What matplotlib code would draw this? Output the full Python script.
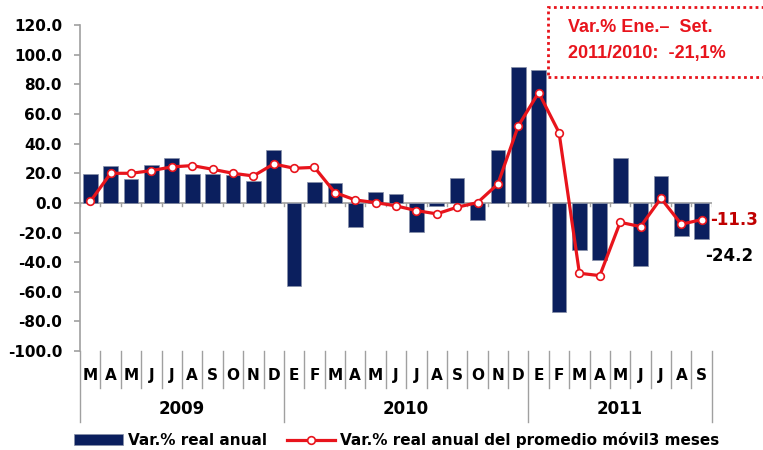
import matplotlib
matplotlib.use("Agg")
import matplotlib.pyplot as plt
from matplotlib.patches import Rectangle
import numpy as np

plt.rcParams['font.family'] = ['DejaVu Sans']

months = ["M", "A", "M", "J", "J", "A", "S", "O", "N", "D",
          "E", "F", "M", "A", "M", "J", "J", "A", "S", "O", "N", "D",
          "E", "F", "M", "A", "M", "J", "J", "A", "S"]
years = ["2009", "2010", "2011"]
year_counts = [10, 12, 9]

var_anual = [19.5, 25.0, 16.0, 25.5, 30.0, 19.5, 19.5, 19.0, 14.8, 36.0,
             -55.9, 14.4, 13.3, -16.0, 7.2, 6.1, -19.8, -1.8, 16.7, -11.5, 36.0, 92.0,
             90.0, -73.9, -31.8, -38.5, 30.0, -42.6, 18.0, -22.3, -24.2]
var_movil = [1.0, 20.0, 20.0, 21.8, 24.3, 25.2, 22.7, 20.0, 18.2, 26.3,
             23.4, 24.0, 7.0, 2.0, 0.2, -2.0, -5.2, -7.4, -2.9, 0.2, 12.8, 52.0,
             74.5, 47.5, -47.5, -49.1, -13.1, -16.0, 3.1, -14.4, -11.3]

navy = "#0B1F5E"
red = "#E8141C"

fig = plt.figure(figsize=(7.63, 4.5), dpi=100)
ax = fig.add_axes([0.105, 0.22, 0.828, 0.724])

x = np.arange(len(months))
bars = ax.bar(x, var_anual, width=0.72, color=navy, edgecolor="#8890A8", linewidth=0.5,
              zorder=2, label="Var.% real anual")
line, = ax.plot(x, var_movil, color=red, lw=2.3, marker="o", markersize=5.5,
                markerfacecolor="white", markeredgecolor=red, markeredgewidth=1.2, zorder=3,
                label="Var.% real anual del promedio móvil3 meses")

ax.set_xlim(-0.5, len(months) - 0.5)
ax.set_ylim(-100, 120)
ax.set_yticks(np.arange(-100, 121, 20))
ax.set_yticklabels([f"{v:.1f}" for v in np.arange(-100, 121, 20)], fontsize=11,
                   fontweight="bold")
for s in ["top", "right", "bottom"]:
    ax.spines[s].set_visible(False)
ax.spines["left"].set_color("#A0A0A0")
ax.spines["left"].set_linewidth(1.2)
ax.tick_params(axis="y", colors="#A0A0A0", labelcolor="black", length=4, width=1.2, pad=9)
ax.set_xticks([])

# zero axis line with small ticks
ax.axhline(0, color="#A0A0A0", lw=1.2, zorder=1)
for b in np.arange(-0.5, len(months), 1.0):
    ax.plot([b, b], [0, -2.2], color="#A0A0A0", lw=1.0, zorder=1)

# category separator lines below
trans = ax.get_xaxis_transform()
bounds = np.cumsum([0] + year_counts) - 0.5
for b in np.arange(-0.5, len(months), 1.0):
    long = any(abs(b - yb) < 1e-6 for yb in bounds)
    ax.plot([b, b], [0, -0.218 if long else -0.113], transform=trans,
            color="#A0A0A0", lw=1.0, clip_on=False)
for i, m in enumerate(months):
    ax.text(i, -0.074, m, transform=trans, ha="center", va="center",
            fontsize=11, fontweight="bold")
for yr, a, b in zip(years, bounds[:-1], bounds[1:]):
    ax.text((a + b) / 2, -0.178, yr, transform=trans, ha="center", va="center",
            fontsize=12, fontweight="bold")

# end labels
ax.text(len(months) - 0.6, var_movil[-1], f"{var_movil[-1]:.1f}", ha="left",
        va="center", fontsize=12, fontweight="bold", color="#C00000")
ax.text(len(months) - 0.85, var_anual[-1] - 11.5, f"{var_anual[-1]:.1f}", ha="left",
        va="center", fontsize=12, fontweight="bold", color="black")

# annotation box
fig.patches.append(Rectangle((0.718, 0.829), 0.3, 0.156, transform=fig.transFigure,
                             fill=False, edgecolor=red, linestyle=(0, (1, 1.2)), lw=2))
fig.text(0.745, 0.938, "Var.% Ene.–  Set.", color=red, fontsize=13,
         fontweight="bold", va="center", ha="left", family="Liberation Sans")
fig.text(0.745, 0.882, "2011/2010:  -21,1%", color=red, fontsize=13,
         fontweight="bold", va="center", ha="left", family="Liberation Sans")

fig.legend([bars, line], ["Var.% real anual", "Var.% real anual del promedio móvil3 meses"],
           loc="center", bbox_to_anchor=(0.52, 0.022), ncol=2, frameon=False,
           prop={"weight": "bold", "size": 11}, handlelength=3.2, columnspacing=1.3,
           handletextpad=0.3, borderaxespad=0)

fig.savefig("out.png", dpi=100)
